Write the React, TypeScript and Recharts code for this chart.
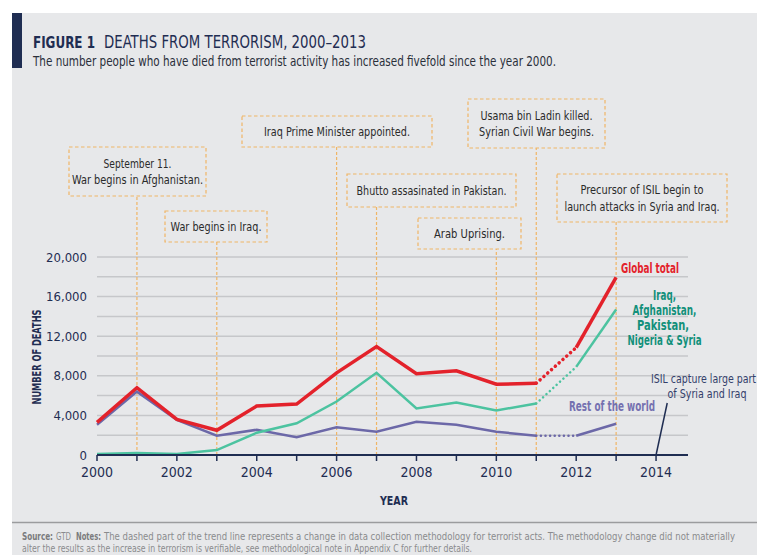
import React from "react";
import {
  LineChart,
  Line,
  XAxis,
  YAxis,
  CartesianGrid,
  ReferenceLine,
} from "recharts";

const YEARS = [2000, 2001, 2002, 2003, 2004, 2005, 2006, 2007, 2008, 2009, 2010, 2011, 2012, 2013];
const GLOBAL_TOTAL = [3300, 6800, 3600, 2500, 4950, 5150, 8300, 10950, 8200, 8500, 7150, 7250, 10850, 17950];
const FIVE_COUNTRIES = [100, 200, 100, 500, 2250, 3200, 5400, 8300, 4700, 5300, 4500, 5200, 8900, 14700];
const REST_OF_WORLD = [3050, 6400, 3550, 1950, 2550, 1800, 2800, 2350, 3350, 3050, 2350, 1950, 1950, 3150];

// methodology change: dotted between these two years
const BREAK_FROM = 2011;
const BREAK_TO = 2012;

const X_TICKS = [2000, 2001, 2002, 2003, 2004, 2005, 2006, 2007, 2008, 2009, 2010, 2011, 2012, 2013, 2014];
const Y_TICKS = [0, 2000, 4000, 6000, 8000, 10000, 12000, 14000, 16000, 18000, 20000];

const EVENTS = [
  { year: 2001, lines: ["September 11.", "War begins in Afghanistan."] },
  { year: 2003, lines: ["War begins in Iraq."] },
  { year: 2006, lines: ["Iraq Prime Minister appointed."] },
  { year: 2007, lines: ["Bhutto assasinated in Pakistan."] },
  { year: 2010, lines: ["Arab Uprising."] },
  { year: 2011, lines: ["Usama bin Ladin killed.", "Syrian Civil War begins."] },
  { year: 2013, lines: ["Precursor of ISIL begin to", "launch attacks in Syria and Iraq."] },
];

// box geometry (px) for each event, same order as EVENTS
const EVENT_BOXES = [
  { x: 69, y: 147, w: 137, h: 49, widths: [68, 131] },
  { x: 165, y: 211, w: 102, h: 31, widths: [91] },
  { x: 242, y: 116, w: 190, h: 31, widths: [146] },
  { x: 347, y: 174, w: 169, h: 33, widths: [150] },
  { x: 418, y: 218, w: 103, h: 31, widths: [71] },
  { x: 468, y: 99, w: 137, h: 49, widths: [112, 115] },
  { x: 557, y: 174, w: 170, h: 48, widths: [123, 155] },
];

const FONT = "'Liberation Sans Narrow', 'DejaVu Sans Condensed', 'Open Sans', sans-serif";
const NAVY = "#1f2d52";
const RED = "#e3222b";
const TEAL = "#4cc3a0";
const TEAL_TEXT = "#12907a";
const PURPLE = "#6c68a8";
const PURPLE_TEXT = "#7571b0";
const ORANGE = "#f0b566";
const BG = "#e7e8ea";
const FOOT = "#8a8b8d";
const FOOT_BOLD = "#7a7b7d";

// plot area in px
const PLOT_LEFT = 97;
const PLOT_RIGHT = 688;
const PLOT_TOP = 257;
const PLOT_BOTTOM = 455;
const Y_MAX = 20000;

const valueAtPx = (py: number) => ((PLOT_BOTTOM - py) / (PLOT_BOTTOM - PLOT_TOP)) * Y_MAX;

const splitSeries = (values: number[], i: number, year: number) => ({
  a: year <= BREAK_FROM ? values[i] : null,
  b: year >= BREAK_FROM && year <= BREAK_TO ? values[i] : null,
  c: year >= BREAK_TO ? values[i] : null,
});

const data = YEARS.map((year, i) => {
  const g = splitSeries(GLOBAL_TOTAL, i, year);
  const f = splitSeries(FIVE_COUNTRIES, i, year);
  const r = splitSeries(REST_OF_WORLD, i, year);
  return {
    year,
    globalA: g.a, globalB: g.b, globalC: g.c,
    fiveA: f.a, fiveB: f.b, fiveC: f.c,
    restA: r.a, restB: r.b, restC: r.c,
  };
});

function T(props: any) {
  const { children, len, ...rest } = props;
  return (
    <text
      fontFamily={FONT}
      dominantBaseline="central"
      {...(len ? { textLength: len, lengthAdjust: "spacingAndGlyphs" } : {})}
      {...rest}
    >
      {children}
    </text>
  );
}

export default function App() {
  const lineProps = { type: "linear" as const, dot: false, activeDot: false, isAnimationActive: false, connectNulls: false };
  const dotted = { strokeDasharray: "0.1 4.5", strokeLinecap: "round" as const };
  return (
    <div style={{ position: "absolute", left: 0, top: 0, width: 757, height: 555, background: "#fff", overflow: "hidden" }}>
      <div style={{ position: "absolute", left: 12, top: 13, width: 745, height: 542, background: BG }} />
      <div style={{ position: "absolute", left: 0, top: 0 }}>
        <LineChart
          width={757}
          height={555}
          data={data}
          margin={{ top: PLOT_TOP, right: 757 - PLOT_RIGHT, bottom: 555 - PLOT_BOTTOM - 30, left: PLOT_LEFT - 40 }}
          style={{ fontFamily: FONT }}
        >
          <CartesianGrid vertical={false} stroke="#c6c7ca" strokeWidth={1.5} />
          <XAxis
            dataKey="year"
            type="number"
            domain={[2000, 2014.8]}
            ticks={X_TICKS}
            interval={0}
            height={30}
            tickFormatter={(v: number) => (v % 2 === 0 ? String(v) : "")}
            tick={{ fill: NAVY, fontSize: 14, fontFamily: FONT }}
            tickSize={6}
            tickMargin={6}
            tickLine={{ stroke: NAVY, strokeWidth: 1.5 }}
            axisLine={{ stroke: NAVY, strokeWidth: 2 }}
          />
          <YAxis
            type="number"
            domain={[0, Y_MAX]}
            ticks={Y_TICKS}
            interval={0}
            width={40}
            tickFormatter={(v: number) => (v % 4000 === 0 ? v.toLocaleString("en-US") : "")}
            tick={{ fill: NAVY, fontSize: 13, fontFamily: FONT }}
            tickSize={6}
            tickMargin={4}
            tickLine={false}
            axisLine={false}
          />
          {EVENTS.map((e, i) => (
            <ReferenceLine
              key={e.year}
              ifOverflow="visible"
              segment={[
                { x: e.year, y: 0 },
                { x: e.year, y: valueAtPx(EVENT_BOXES[i].y + EVENT_BOXES[i].h) },
              ]}
              stroke={ORANGE}
              strokeWidth={1.2}
              strokeDasharray="3 2"
            />
          ))}
          <ReferenceLine
            ifOverflow="visible"
            segment={[
              { x: 2014, y: 0 },
              { x: 2014.28, y: 5250 },
            ]}
            stroke={NAVY}
            strokeWidth={1.5}
          />
          <Line {...lineProps} dataKey="restA" stroke={PURPLE} strokeWidth={2.5} />
          <Line {...lineProps} dataKey="restB" stroke={PURPLE} strokeWidth={2.5} {...dotted} />
          <Line {...lineProps} dataKey="restC" stroke={PURPLE} strokeWidth={2.5} />
          <Line {...lineProps} dataKey="fiveA" stroke={TEAL} strokeWidth={2.5} />
          <Line {...lineProps} dataKey="fiveB" stroke={TEAL} strokeWidth={2.5} {...dotted} />
          <Line {...lineProps} dataKey="fiveC" stroke={TEAL} strokeWidth={2.5} />
          <Line {...lineProps} dataKey="globalA" stroke={RED} strokeWidth={3.5} />
          <Line {...lineProps} dataKey="globalB" stroke={RED} strokeWidth={3.5} strokeDasharray="0.1 5" strokeLinecap="round" />
          <Line {...lineProps} dataKey="globalC" stroke={RED} strokeWidth={3.5} />
        </LineChart>
      </div>
      <svg width={757} height={555} style={{ position: "absolute", left: 0, top: 0, pointerEvents: "none" }}>
        {/* title block */}
        <rect x={12} y={13} width={10} height={55} fill={NAVY} />
        <T x={33} y={42} fontSize={16} fill={NAVY} fontWeight="bold" len={62}>FIGURE 1</T>
        <T x={104} y={42} fontSize={17} fill={NAVY} len={262}>DEATHS FROM TERRORISM, 2000–2013</T>
        <T x={33} y={61} fontSize={13.5} fill="#2a2f3a" len={523}>
          The number people who have died from terrorist activity has increased fivefold since the year 2000.
        </T>

        {/* event boxes */}
        {EVENTS.map((e, i) => {
          const b = EVENT_BOXES[i];
          const cx = b.x + b.w / 2;
          const n = e.lines.length;
          return (
            <g key={e.year}>
              <rect x={b.x} y={b.y} width={b.w} height={b.h} fill="none" stroke={ORANGE} strokeWidth={1.2} strokeDasharray="3.5 2.5" />
              {e.lines.map((line, j) => (
                <T
                  key={j}
                  x={cx}
                  y={b.y + b.h / 2 + (j - (n - 1) / 2) * 16.5}
                  fontSize={13}
                  fill="#2b2b2b"
                  textAnchor="middle"
                  len={b.widths[j]}
                >
                  {line}
                </T>
              ))}
            </g>
          );
        })}

        {/* series labels */}
        <T x={621} y={268} fontSize={13.5} fill={RED} fontWeight="bold" len={58}>Global total</T>
        <T x={664.5} y={294.5} fontSize={13.5} fill={TEAL_TEXT} fontWeight="bold" textAnchor="middle" len={23}>Iraq,</T>
        <T x={664.5} y={310} fontSize={13.5} fill={TEAL_TEXT} fontWeight="bold" textAnchor="middle" len={64}>Afghanistan,</T>
        <T x={663} y={325} fontSize={13.5} fill={TEAL_TEXT} fontWeight="bold" textAnchor="middle" len={52}>Pakistan,</T>
        <T x={664.5} y={339.5} fontSize={13.5} fill={TEAL_TEXT} fontWeight="bold" textAnchor="middle" len={74}>Nigeria &amp; Syria</T>
        <T x={569} y={406} fontSize={13.5} fill={PURPLE_TEXT} fontWeight="bold" len={86}>Rest of the world</T>
        <T x={651} y={378.5} fontSize={12} fill="#34406a" len={105}>ISIL capture large part</T>
        <T x={667.5} y={393.5} fontSize={12} fill="#34406a" len={79}>of Syria and Iraq</T>

        {/* axis titles */}
        <T x={394} y={500} fontSize={13} fill={NAVY} fontWeight="bold" textAnchor="middle" len={28}>YEAR</T>
        <T
          x={0}
          y={0}
          fontSize={11.5}
          fill={NAVY}
          fontWeight="bold"
          textAnchor="middle"
          len={95}
          transform="translate(37 357) rotate(-90)"
        >
          NUMBER OF DEATHS
        </T>

        {/* footer */}
        <line x1={12} x2={757} y1={522.5} y2={522.5} stroke="#9b9c9e" strokeWidth={1.5} />
        <T x={22} y={536.5} fontSize={10} fill={FOOT_BOLD} fontWeight="bold" len={31}>Source:</T>
        <T x={56} y={536.5} fontSize={10} fill={FOOT} len={15}>GTD</T>
        <T x={76} y={536.5} fontSize={10} fill={FOOT_BOLD} fontWeight="bold" len={25}>Notes:</T>
        <T x={104} y={536.5} fontSize={10} fill={FOOT} len={631}>
          The dashed part of the trend line represents a change in data collection methodology for terrorist acts. The methodology change did not materially
        </T>
        <T x={22} y={548} fontSize={10} fill={FOOT} len={450}>
          alter the results as the increase in terrorism is verifiable, see methodological note in Appendix C for further details.
        </T>
      </svg>
    </div>
  );
}
